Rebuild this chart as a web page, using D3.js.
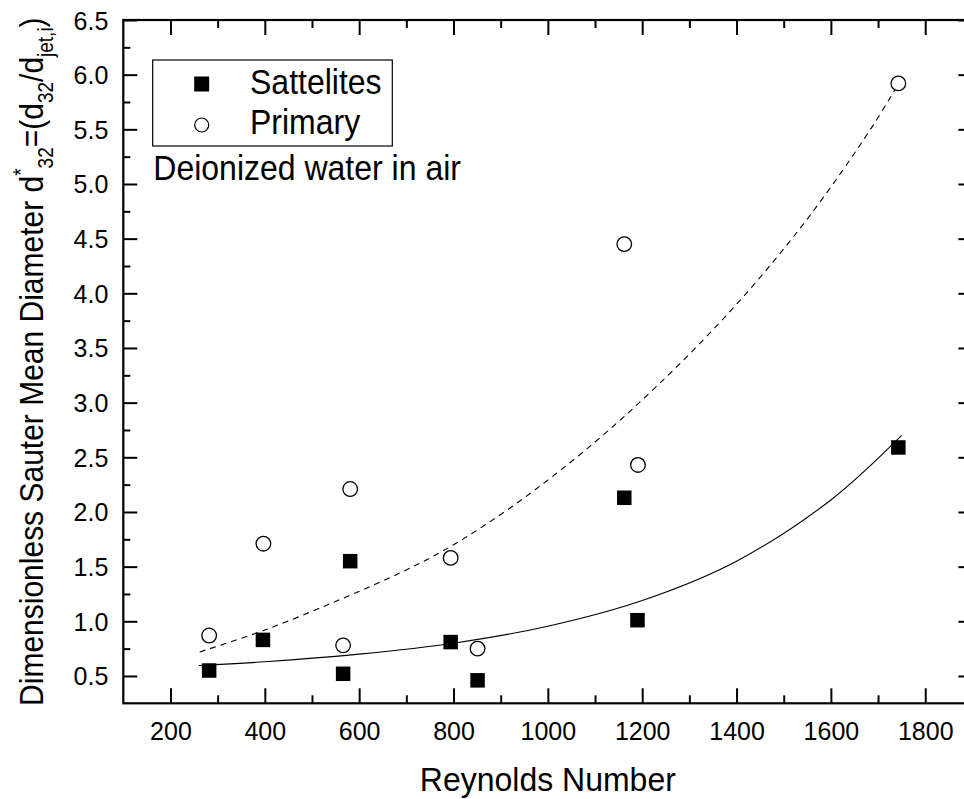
<!DOCTYPE html>
<html>
<head>
<meta charset="utf-8">
<script src="https://cdn.jsdelivr.net/npm/d3@7"></script>
<style>
  html, body { margin: 0; padding: 0; background: #fff; }
  svg { display: block; font-family: "Liberation Sans", Arial, sans-serif; }
</style>
</head>
<body>
<svg id="chart" width="964" height="799"></svg>
<script>
// ---- data ----
const satRe = [282, 396, 566, 581, 794, 851, 1162, 1190, 1743];
const satD  = [0.55, 0.83, 0.52, 1.55, 0.81, 0.46, 2.13, 1.01, 2.59];
const priRe = [282, 397, 566, 581, 794, 851, 1162, 1191, 1743];
const priD  = [0.87, 1.71, 0.78, 2.21, 1.58, 0.75, 4.45, 2.43, 5.92];
// fitted curves
const satFitRe = [260, 400, 600, 800, 1000, 1200, 1400, 1600, 1750];
const satFitD  = [0.596, 0.63, 0.70, 0.80, 0.955, 1.19, 1.55, 2.11, 2.70];
const priFitRe = [262, 400, 560, 700, 800, 934, 1089, 1238, 1400, 1550, 1687, 1745];
const priFitD  = [0.72, 0.92, 1.20, 1.47, 1.70, 2.08, 2.60, 3.18, 3.90, 4.68, 5.52, 5.93];
const xMajor = [200, 400, 600, 800, 1000, 1200, 1400, 1600, 1800];
const xMinor = [300, 500, 700, 900, 1100, 1300, 1500, 1700];
const yMajor = [0.5, 1.0, 1.5, 2.0, 2.5, 3.0, 3.5, 4.0, 4.5, 5.0, 5.5, 6.0, 6.5];
const yMinor = [0.75, 1.25, 1.75, 2.25, 2.75, 3.25, 3.75, 4.25, 4.75, 5.25, 5.75, 6.25];
const legendLabels = ["Sattelites", "Primary"];
const noteText = "Deionized water in air";

// ---- layout ----
const L = 123.3, R = 972.4, T = 20, B = 703.3;
const svg = d3.select("#chart");
const x = d3.scaleLinear().domain([100, 1900]).range([L, R]);
const y = d3.scaleLinear().domain([0.25, 6.5]).range([B, T]);

const g = svg.append("g");

function styleAxis(sel) {
  sel.select(".domain").remove();
  sel.selectAll(".tick line").attr("stroke", "#000").attr("stroke-width", 2);
}

// bottom
g.append("g").attr("transform", `translate(0,${B})`)
  .call(d3.axisBottom(x).tickValues(xMajor).tickSize(-15).tickPadding(0).tickFormat(d3.format("d")))
  .call(styleAxis)
  .call(s => s.selectAll("text").attr("font-size", 25).attr("fill", "#000")
      .attr("y", 0).attr("dy", null).attr("transform", "translate(0,37)"));
g.append("g").attr("transform", `translate(0,${B})`)
  .call(d3.axisBottom(x).tickValues(xMinor).tickSize(-8).tickFormat(""))
  .call(styleAxis);
// top
g.append("g").attr("transform", `translate(0,${T})`)
  .call(d3.axisTop(x).tickValues(xMajor).tickSize(-15).tickFormat(""))
  .call(styleAxis);
g.append("g").attr("transform", `translate(0,${T})`)
  .call(d3.axisTop(x).tickValues(xMinor).tickSize(-8).tickFormat(""))
  .call(styleAxis);
// left
g.append("g").attr("transform", `translate(${L},0)`)
  .call(d3.axisLeft(y).tickValues(yMajor).tickSize(-14).tickPadding(15).tickFormat(d3.format(".1f")))
  .call(styleAxis)
  .call(s => s.selectAll("text").attr("font-size", 25).attr("fill", "#000")
      .attr("x", -15).attr("dy", "0.36em"));
g.append("g").attr("transform", `translate(${L},0)`)
  .call(d3.axisLeft(y).tickValues(yMinor).tickSize(-7).tickFormat(""))
  .call(styleAxis);
// right
g.append("g").attr("transform", `translate(${R},0)`)
  .call(d3.axisRight(y).tickValues(yMajor).tickSize(-14).tickFormat(""))
  .call(styleAxis);
g.append("g").attr("transform", `translate(${R},0)`)
  .call(d3.axisRight(y).tickValues(yMinor).tickSize(-7).tickFormat(""))
  .call(styleAxis);

// frame
g.append("rect").attr("x", L).attr("y", T).attr("width", R - L).attr("height", B - T)
  .attr("fill", "none").attr("stroke", "#000").attr("stroke-width", 2.2);

// fit curves
const line = d3.line().x(d => x(d[0])).y(d => y(d[1])).curve(d3.curveCatmullRom.alpha(0.5));
g.append("path").datum(priFitRe.map((v, i) => [v, priFitD[i]]))
  .attr("d", line).attr("fill", "none").attr("stroke", "#000")
  .attr("stroke-width", 1.1).attr("stroke-dasharray", "6,5");
g.append("path").datum(satFitRe.map((v, i) => [v, satFitD[i]]))
  .attr("d", line).attr("fill", "none").attr("stroke", "#000").attr("stroke-width", 1.1);

// points
const sq = 14.5;
g.append("g").selectAll("rect").data(satRe.map((v, i) => [v, satD[i]])).join("rect")
  .attr("x", d => x(d[0]) - sq / 2).attr("y", d => y(d[1]) - sq / 2)
  .attr("width", sq).attr("height", sq).attr("fill", "#000");
g.append("g").selectAll("circle").data(priRe.map((v, i) => [v, priD[i]])).join("circle")
  .attr("cx", d => x(d[0])).attr("cy", d => y(d[1])).attr("r", 7.3)
  .attr("fill", "#fff").attr("stroke", "#000").attr("stroke-width", 1.3);

// legend
const lg = g.append("g");
lg.append("rect").attr("x", 152.7).attr("y", 60).attr("width", 239.6).attr("height", 86)
  .attr("fill", "#fff").attr("stroke", "#000").attr("stroke-width", 1.2);
lg.append("rect").attr("x", 201.7 - 7.5).attr("y", 84 - 7.5).attr("width", 15).attr("height", 15).attr("fill", "#000");
lg.append("circle").attr("cx", 201.7).attr("cy", 125).attr("r", 7).attr("fill", "#fff")
  .attr("stroke", "#000").attr("stroke-width", 1.2);
lg.selectAll("text.lab").data(legendLabels).join("text").attr("class", "lab")
  .attr("transform", (d, i) => `translate(250,${i === 0 ? 93.5 : 133.5}) scale(1,1.08)`)
  .attr("font-size", 32).attr("fill", "#000").text(d => d);
g.append("text").attr("transform", "translate(153.3,180) scale(1,1.08)")
  .attr("font-size", 32).attr("fill", "#000").text(noteText);

// axis titles
svg.append("text").attr("transform", `translate(${(L + R) / 2},791) scale(1,1.05)`).attr("text-anchor", "middle")
  .attr("font-size", 32).attr("fill", "#000").text("Reynolds Number");

const yt = svg.append("text").attr("transform", `translate(43,${(T + B) / 2}) rotate(-90) scale(1,1.12)`)
  .attr("text-anchor", "middle").attr("font-size", 30).attr("fill", "#000");
yt.append("tspan").text("Dimensionless Sauter Mean Diameter d");
yt.append("tspan").attr("font-size", 19).attr("dy", -13).text("*");
yt.append("tspan").attr("font-size", 19).attr("dy", 22).text("32");
yt.append("tspan").attr("dy", -9).text("=(d");
yt.append("tspan").attr("font-size", 19).attr("dy", 9).text("32");
yt.append("tspan").attr("dy", -9).text("/d");
yt.append("tspan").attr("font-size", 19).attr("dy", 9).text("jet,i");
yt.append("tspan").attr("dy", -9).text(")");
</script>
</body>
</html>
